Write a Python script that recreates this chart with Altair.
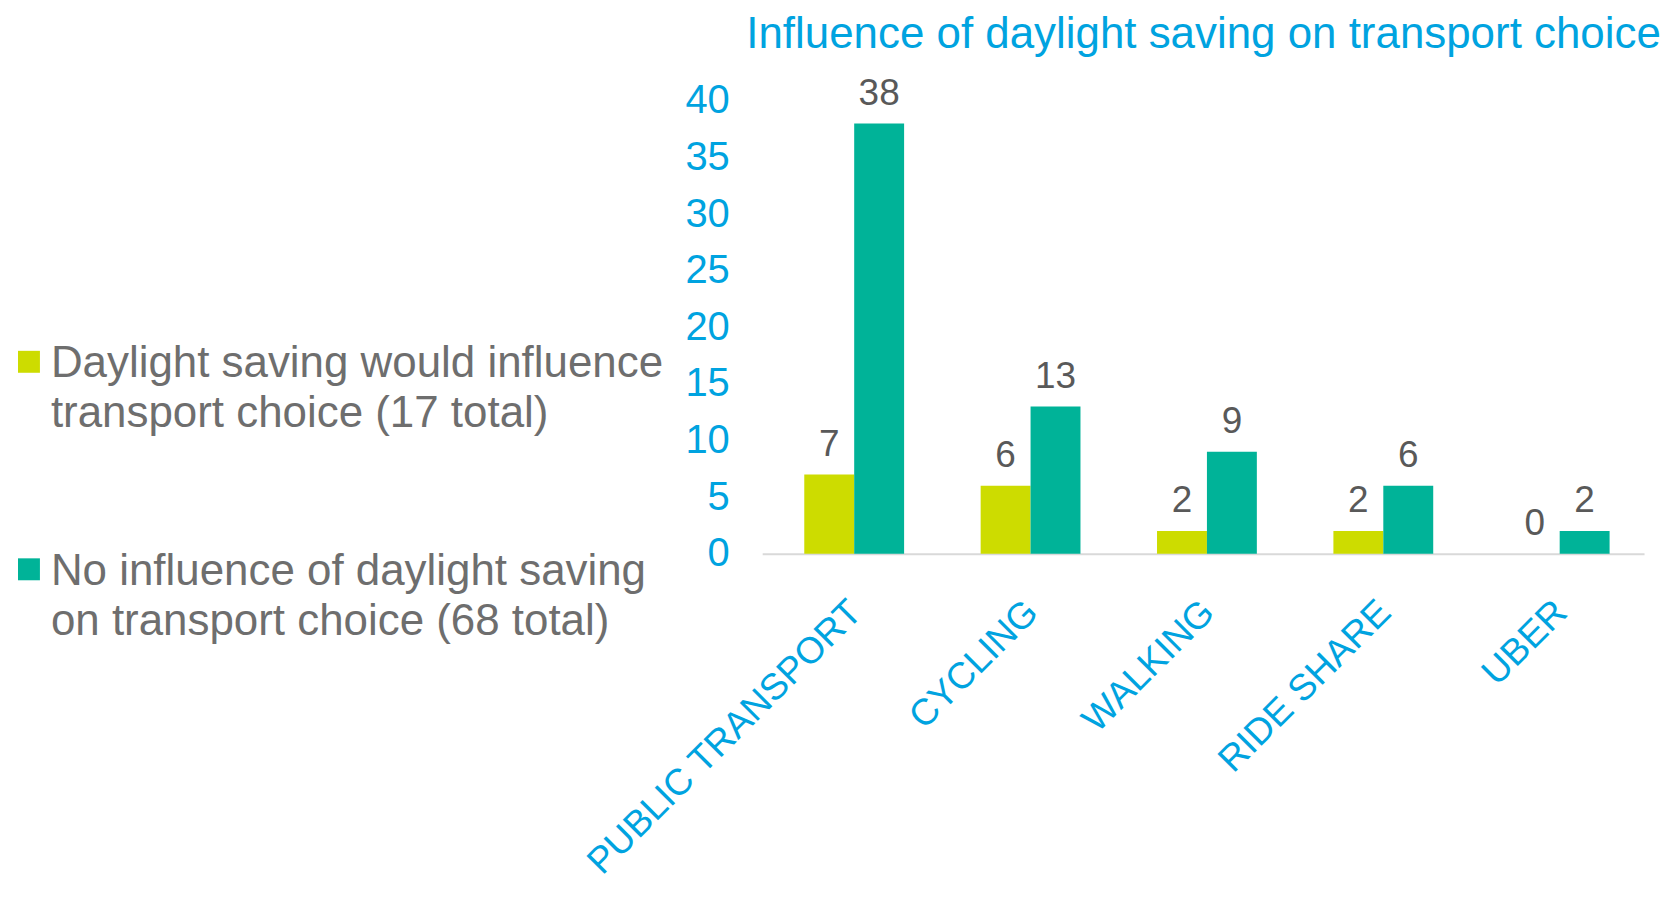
import altair as alt
import pandas as pd

# ---- data ----
categories = ["PUBLIC TRANSPORT", "CYCLING", "WALKING", "RIDE SHARE", "UBER"]
series = [
    "Daylight saving would influence\ntransport choice (17 total)",
    "No influence of daylight saving\non transport choice (68 total)",
]
influence_values = [7, 6, 2, 2, 0]
no_influence_values = [38, 13, 9, 6, 2]
y_ticks = [0, 5, 10, 15, 20, 25, 30, 35, 40]
title_text = "Influence of daylight saving on transport choice"

# ---- styles ----
series_colors = ["#CDDC00", "#00B398"]
BLUE = "#00A3E0"
LABEL_GRAY = "#595959"
LEGEND_GRAY = "#6E6E6E"
FONT = "Liberation Sans"

rows = []
for cat, a, b in zip(categories, influence_values, no_influence_values):
    rows.append({"category": cat, "series": series[0], "value": a})
    rows.append({"category": cat, "series": series[1], "value": b})
df = pd.DataFrame(rows)

base = alt.Chart(df).encode(
    x=alt.X(
        "category:N",
        sort=categories,
        scale=alt.Scale(paddingInner=0.434, paddingOuter=0.217, align=0.55),
        axis=alt.Axis(
            title=None,
            labelAngle=-45,
            labelAlign="right",
            labelBaseline="top",
            labelPadding=40,
            labelOffset=-11,
            labelFontSize=37,
            labelColor=BLUE,
            labelFont=FONT,
            labelLimit=0,
            labelOverlap=False,
            ticks=False,
            grid=False,
            domainColor="#D9D9D9",
            domainWidth=2,
        ),
    ),
    xOffset=alt.XOffset("series:N", sort=series, scale=alt.Scale(paddingInner=0, paddingOuter=0)),
    y=alt.Y(
        "value:Q",
        scale=alt.Scale(domain=[0, 40], nice=False),
        axis=alt.Axis(
            title=None,
            values=y_ticks,
            labelFontSize=40,
            labelColor=BLUE,
            labelFont=FONT,
            labelPadding=33,
            domain=False,
            ticks=False,
            grid=False,
        ),
    ),
)

bars = base.mark_bar().encode(
    color=alt.Color(
        "series:N",
        sort=series,
        scale=alt.Scale(domain=series, range=series_colors),
        legend=alt.Legend(
            title=None,
            orient="none",
            legendX=-757,
            legendY=255,
            labelExpr="split(datum.label, '\\n')",
            labelFontSize=44,
            labelFont=FONT,
            labelColor=LEGEND_GRAY,
            labelBaseline="alphabetic",
            labelLimit=0,
            labelOffset=0,
            symbolType="M-1,-2.4H1V-0.4H-1Z",
            symbolSize=484,
            symbolStrokeWidth=0,
            rowPadding=114,
            padding=0,
        ),
    )
)

labels = base.mark_text(
    baseline="alphabetic", dy=-19, fontSize=37, color=LABEL_GRAY, font=FONT
).encode(text="value:Q")

chart = (
    alt.layer(bars, labels)
    .properties(
        width=884,
        height=454,
        padding={"left": 756, "top": 92, "right": 17, "bottom": 332},
        autosize=alt.AutoSizeParams(type="none"),
        title=alt.Title(
            title_text,
            anchor="start",
            frame="group",
            dx=-16,
            dy=47,
            offset=30,
            fontSize=44,
            font=FONT,
            fontWeight="normal",
            color=BLUE,
            baseline="alphabetic",
        ),
    )
    .configure(style={"guide-label": alt.MarkConfig(lineHeight=50)})
    .configure_view(stroke=None)
)

chart.save("out.html", embed_options={"renderer": "svg", "actions": False})
